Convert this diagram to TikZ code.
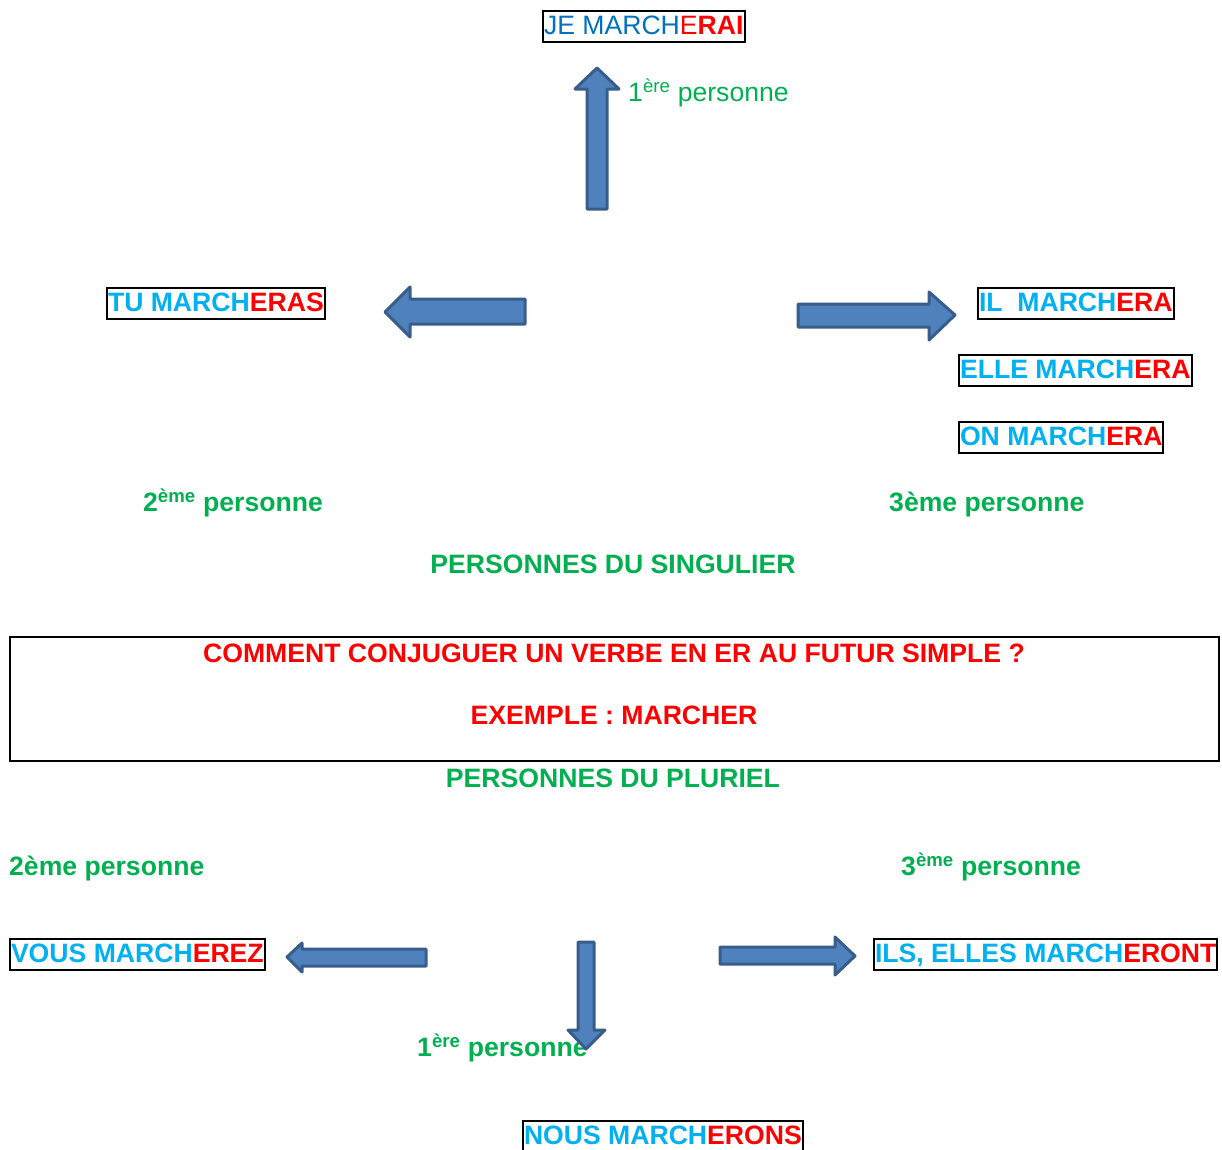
\documentclass[tikz,border=0pt]{standalone}
\usepackage{fontspec}
\setmainfont{Liberation Sans}
\usetikzlibrary{positioning}
\definecolor{jeblue}{RGB}{0,112,192}
\definecolor{stemcyan}{RGB}{0,176,240}
\definecolor{endred}{RGB}{255,0,0}
\definecolor{persgreen}{RGB}{0,176,80}
\definecolor{arrowfill}{RGB}{79,129,189}
\definecolor{arrowline}{RGB}{56,93,138}
\tikzset{
	formbox/.style={draw=black, line width=2pt, inner xsep=1pt, inner ysep=3pt, text height=20.5pt, text depth=4.5pt, anchor=west},
	perslabel/.style={text=persgreen, font=\fontsize{26.6}{30}\selectfont\bfseries, inner sep=0pt},
	blockarrow/.style={fill=arrowfill, draw=arrowline, line width=3pt, line join=round}
}
\begin{document}
\begin{tikzpicture}[x=1pt, y=-1pt, font=\fontsize{26.6}{30}\selectfont]
		\newcommand{\mystem}[1]{%
			\textcolor{stemcyan}{\bfseries #1}%
		}\newcommand{\myend}[1]{%
			\textcolor{endred}{\bfseries #1}%
		}%Page frame
		\useasboundingbox (0,0) rectangle (1222,1149);
		%Singular forms
		\node [formbox] (je) at (542,26) {\textcolor{jeblue}{JE MARCH}\textcolor{endred}{E\textbf{RAI}}};
		\node [formbox] (tu) at (106,303) {\mystem{TU MARCH}\myend{ERAS}};
		\node [formbox] (il) at (977,303) {\mystem{IL\ \ MARCH}\myend{ERA}};
		\node [formbox] (elle) at (958,370) {\mystem{ELLE MARCH}\myend{ERA}};
		\node [formbox] (on) at (958,437) {\mystem{ON MARCH}\myend{ERA}};
		%Singular persons
		\node [perslabel, font=\fontsize{26.6}{30}\selectfont, anchor=base west] (sing1) at (628,101.5) {1\textsuperscript{ère} personne};
		\node [perslabel, anchor=base west] (sing2) at (143,511.5) {2\textsuperscript{ème} personne};
		\node [perslabel, anchor=base west] (sing3) at (889,511.5) {3ème personne};
		\node [perslabel] (singular) at (613,564) {PERSONNES DU SINGULIER};
		%Title box
		\node [draw=black, line width=2pt, minimum width=1209pt, minimum height=124pt] (titlebox) at (614.5,699) {};
		\node [perslabel, text=endred] (question) at (614,653) {COMMENT CONJUGUER UN VERBE EN ER AU FUTUR SIMPLE ?};
		\node [perslabel, text=endred] (exemple) at (614,715) {EXEMPLE : MARCHER};
		\node [perslabel] (plural) at (613,778) {PERSONNES DU PLURIEL};
		%Plural persons
		\node [perslabel, anchor=base west] (plur2) at (9,875.5) {2ème personne};
		\node [perslabel, anchor=base west] (plur3) at (901,875.5) {3\textsuperscript{ème} personne};
		\node [perslabel, anchor=base west] (plur1) at (417,1056.5) {1\textsuperscript{ère} personne};
		%Plural forms
		\node [formbox] (vous) at (9,954) {\mystem{VOUS MARCH}\myend{EREZ}};
		\node [formbox] (ils) at (873,954) {\mystem{ILS, ELLES MARCH}\myend{ERONT}};
		\node [formbox] (nous) at (522,1136) {\mystem{NOUS MARCH}\myend{ERONS}};
		%Block arrows, singular
		\coordinate (upTip) at (597,68);
		\coordinate (leftTip) at (385,312);
		\coordinate (rightTip) at (955,315);
		\draw [blockarrow] (587,209) -- (587,89) -- (575,89) -- (upTip) -- (619,89) -- (607,89) -- (607,209) -- cycle;
		\draw [blockarrow] (525,299) -- (410,299) -- (410,287) -- (leftTip) -- (410,337) -- (410,324) -- (525,324) -- cycle;
		\draw [blockarrow] (798,304) -- (929,304) -- (929,292) -- (rightTip) -- (929,340) -- (929,327) -- (798,327) -- cycle;
		%Block arrows, plural
		\coordinate (downTip) at (586,1049);
		\coordinate (vousTip) at (287,957);
		\coordinate (ilsTip) at (855,956);
		\draw [blockarrow] (578,942) -- (578,1030) -- (568,1030) -- (downTip) -- (605,1030) -- (594,1030) -- (594,942) -- cycle;
		\draw [blockarrow] (426,949) -- (302,949) -- (302,943) -- (vousTip) -- (302,972) -- (302,966) -- (426,966) -- cycle;
		\draw [blockarrow] (720,947) -- (835,947) -- (835,937) -- (ilsTip) -- (835,975) -- (835,964) -- (720,964) -- cycle;
\end{tikzpicture}
\end{document}
